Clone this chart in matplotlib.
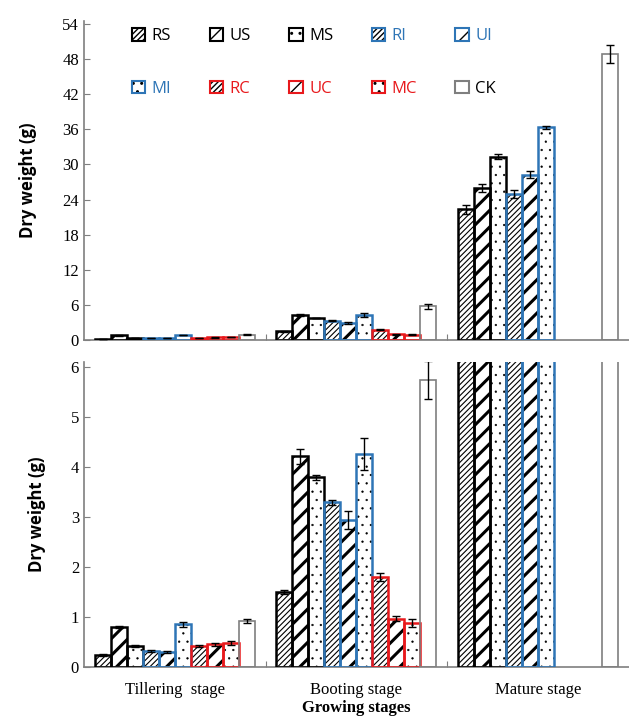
import numpy as np
import matplotlib
matplotlib.use('Agg')
import matplotlib.pyplot as plt
from matplotlib.patches import Patch

#--- data
stages = ['Tillering  stage', 'Booting stage', 'Mature stage']
names = ['RS', 'US', 'MS', 'RI', 'UI', 'MI', 'RC', 'UC', 'MC', 'CK']

# dry weight (g) per stage for each treatment, None = no bar
tiller = [0.24, 0.80, 0.42, 0.32, 0.30, 0.86, 0.42, 0.46, 0.49, 0.92]
booting = [1.50, 4.22, 3.80, 3.30, 2.95, 4.27, 1.80, 0.97, 0.88, 5.75]
mature = [22.3, 26.0, 31.3, 25.0, 28.2, 36.3, None, None, None, 48.8]

tiller_err = [0.02, 0.02, 0.02, 0.02, 0.02, 0.05, 0.02, 0.03, 0.04, 0.04]
booting_err = [0.04, 0.15, 0.05, 0.05, 0.18, 0.32, 0.08, 0.05, 0.08, 0.38]
mature_err = [0.8, 0.7, 0.4, 0.7, 0.6, 0.3, None, None, None, 1.5]

values = [tiller, booting, mature]
errors = [tiller_err, booting_err, mature_err]

#--- style
blk, blu, red = 'black', '#2E75B6', '#E8191C'
edge_col = [blk, blk, blk, blu, blu, blu, red, red, red, '#7f7f7f']
text_col = [blk, blk, blk, blu, blu, blu, red, red, red, blk]
hatches = ['//////', '//', '..', '//////', '//', '..', '//////', '//', '..', '']
hatch_lw = [0.8, 2.2, 0.4, 0.8, 2.2, 0.4, 0.8, 2.2, 0.4, 1.0]

w = 0.088
gray = '#7f7f7f'
serif = ['Liberation Serif', 'DejaVu Serif']

fig = plt.figure(figsize=(6.29, 7.19), dpi=100)
ax1 = fig.add_axes([0.1335, 0.527, 0.866, 0.444])
ax2 = fig.add_axes([0.1335, 0.0723, 0.866, 0.424])


def draw(ax):
	for i in range(10):
		xs, hs, es = [], [], []
		for g in range(3):
			if values[g][i] is None:
				continue
			xs.append(g + (i - 4.5) * w)
			hs.append(values[g][i])
			es.append(errors[g][i])
		with plt.rc_context({'hatch.linewidth': hatch_lw[i]}):
			ax.bar(xs, hs, w, color='white', edgecolor='black', linewidth=0,
				   hatch=hatches[i], zorder=2)
		ax.bar(xs, hs, w, fill=False, edgecolor=edge_col[i],
			   linewidth=1.8 if i < 9 else 1.2, zorder=3)
		ax.errorbar(xs, hs, yerr=es, fmt='none', ecolor='black',
					elinewidth=1.0, capsize=3, capthick=1.0, zorder=4)
	ax.set_xlim(-0.5, 2.5)
	for s in ['top', 'right']:
		ax.spines[s].set_visible(False)
	for s in ['left', 'bottom']:
		ax.spines[s].set_color(gray)
		ax.spines[s].set_linewidth(1.2)
	ax.set_xticks([0.5, 1.5])
	ax.tick_params(axis='x', direction='in', length=4, color=gray, labelbottom=False)
	ax.tick_params(axis='y', direction='in', length=4, color=gray, labelsize=12)
	ax.set_ylabel('Dry weight (g)', fontsize=12, fontweight='bold',
				  family=['Open Sans', 'DejaVu Sans'], labelpad=18)


draw(ax1)
ax1.set_ylim(0, 54.5)
ax1.set_yticks(np.arange(0, 55, 6))
for t in ax1.get_yticklabels():
	t.set_family(serif)

draw(ax2)
ax2.set_ylim(0, 6.1)
ax2.set_yticks(np.arange(0, 7, 1))
for t in ax2.get_yticklabels():
	t.set_family(serif)
for g in range(3):
	ax2.text(g, -0.46, stages[g], ha='center', va='center', fontsize=12, family=serif)
ax2.text(1, -0.83, 'Growing stages', ha='center', va='center', fontsize=12,
		 fontweight='bold', family=serif)

#--- legend, row-major order
handles = []
for i in range(10):
	with plt.rc_context({'hatch.linewidth': hatch_lw[i]}):
		hp = Patch(facecolor='white', edgecolor='black', linewidth=0, hatch=hatches[i])
	ep = Patch(fill=False, edgecolor=edge_col[i], linewidth=1.5)
	handles.append((hp, ep))
order = [0, 5, 1, 6, 2, 7, 3, 8, 4, 9]
leg = ax1.legend([handles[k] for k in order], [names[k] for k in order],
				 ncol=5, loc='upper left', bbox_to_anchor=(0.06, 1.025),
				 frameon=False, handlelength=0.8, handleheight=0.8,
				 handletextpad=0.4, columnspacing=2.3, labelspacing=2.2,
				 prop={'family': ['Open Sans', 'DejaVu Sans'], 'size': 12})
for t, k in zip(leg.get_texts(), order):
	t.set_color(text_col[k])

plt.savefig('out.png', dpi=100)
plt.close()
